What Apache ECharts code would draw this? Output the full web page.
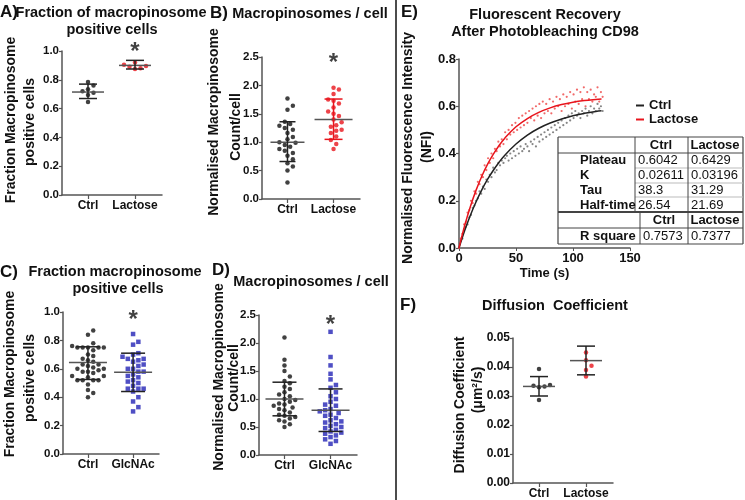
<!DOCTYPE html>
<html><head><meta charset="utf-8">
<script src="https://cdn.jsdelivr.net/npm/echarts@6/dist/echarts.min.js"></script>
<style>html,body{margin:0;padding:0;background:#fff}#c{width:745px;height:500px}</style>
</head><body><div id="c"></div>
<script>
// ---------------- DATA ----------------
const groupsAB = ['Ctrl', 'Lactose'];
const groupsCD = ['Ctrl', 'GlcNAc'];
const groupsF = ['Ctrl', 'Lactose'];

// A) fraction of macropinosome positive cells
const aCtrl = [0.785, 0.76, 0.735, 0.72, 0.71, 0.695, 0.645];
const aLactose = [0.92, 0.905, 0.895, 0.89, 0.88, 0.875];
const aCtrlStats = [0.715, 0.67, 0.77];      // mean, mean-SD, mean+SD
const aLactoseStats = [0.90, 0.875, 0.935];
const aStar = 0.99;

// B) macropinosomes / cell
const bCtrl = [1.77, 1.64, 1.57, 1.36, 1.32, 1.29, 1.25, 1.22, 1.16, 1.09, 1.05, 1.0, 0.99, 0.95, 0.92, 0.88, 0.85, 0.81, 0.76, 0.70, 0.63, 0.57, 0.50, 0.29];
const bLactose = [1.96, 1.93, 1.85, 1.75, 1.73, 1.68, 1.61, 1.54, 1.50, 1.46, 1.40, 1.35, 1.30, 1.27, 1.22, 1.20, 1.16, 1.10, 1.04, 0.97, 0.88];
const bCtrlStats = [1.0, 0.66, 1.36];
const bLactoseStats = [1.40, 1.05, 1.76];
const bStar = 2.39;

// C) fraction macropinosome positive cells
const cCtrl = [0.87, 0.84, 0.78, 0.76, 0.75, 0.75, 0.75, 0.75, 0.75, 0.73, 0.70, 0.69, 0.67, 0.66, 0.65, 0.63, 0.63, 0.62, 0.61, 0.60, 0.60, 0.59, 0.58, 0.58, 0.57, 0.55, 0.55, 0.54, 0.52, 0.52, 0.52, 0.52, 0.49, 0.45, 0.43, 0.40];
const cGlcNAc = [0.845, 0.79, 0.77, 0.71, 0.70, 0.685, 0.67, 0.67, 0.66, 0.65, 0.63, 0.62, 0.60, 0.60, 0.58, 0.58, 0.56, 0.55, 0.54, 0.52, 0.51, 0.50, 0.48, 0.46, 0.46, 0.46, 0.44, 0.40, 0.37, 0.33, 0.30];
const cCtrlStats = [0.645, 0.525, 0.755];
const cGlcNAcStats = [0.575, 0.44, 0.71];
const cStar = 0.94;

// D) macropinosomes / cell
const dCtrl = [2.1, 1.7, 1.6, 1.5, 1.4, 1.32, 1.28, 1.22, 1.18, 1.12, 1.08, 1.05, 1.0, 0.98, 0.95, 0.92, 0.9, 0.88, 0.85, 0.82, 0.8, 0.76, 0.72, 0.7, 0.68, 0.65, 0.62, 0.6, 0.55, 0.5];
const dGlcNAc = [2.2, 1.75, 1.6, 1.45, 1.35, 1.25, 1.2, 1.12, 1.05, 1.0, 0.95, 0.9, 0.88, 0.82, 0.8, 0.78, 0.75, 0.72, 0.7, 0.66, 0.62, 0.6, 0.58, 0.55, 0.52, 0.5, 0.48, 0.45, 0.42, 0.4, 0.38, 0.35, 0.32, 0.28, 0.25, 0.2];
const dCtrlStats = [1.0, 0.7, 1.3];
const dGlcNAcStats = [0.8, 0.42, 1.18];
const dStar = 2.32;

// E) FRAP recovery
const eFrameInterval = 1.5; // s between frames
const eCtrlRaw = [0.00,0.03,0.04,0.08,0.09,0.10,0.13,0.14,0.17,0.18,0.20,0.21,0.24,0.23,0.26,0.25,0.29,0.28,0.31,0.30,0.34,0.32,0.33,0.36,0.35,0.37,0.36,0.38,0.39,0.37,0.40,0.38,0.41,0.39,0.42,0.40,0.43,0.41,0.42,0.44,0.43,0.41,0.45,0.44,0.46,0.43,0.47,0.45,0.48,0.46,0.49,0.47,0.50,0.48,0.51,0.49,0.52,0.50,0.53,0.51,0.54,0.52,0.55,0.53,0.56,0.54,0.57,0.55,0.58,0.56,0.57,0.55,0.58,0.57,0.59,0.56,0.58,0.60,0.57,0.59,0.58,0.61,0.59,0.60,0.58];
const eLactoseRaw = [0.00,0.04,0.06,0.10,0.11,0.15,0.16,0.20,0.19,0.24,0.23,0.28,0.27,0.31,0.30,0.35,0.33,0.38,0.36,0.40,0.38,0.42,0.41,0.45,0.43,0.46,0.44,0.49,0.46,0.50,0.48,0.52,0.49,0.53,0.50,0.55,0.51,0.56,0.52,0.57,0.53,0.58,0.55,0.59,0.54,0.60,0.56,0.61,0.55,0.62,0.57,0.61,0.58,0.63,0.57,0.62,0.59,0.64,0.60,0.63,0.58,0.65,0.60,0.64,0.61,0.66,0.59,0.65,0.62,0.67,0.61,0.66,0.63,0.68,0.60,0.66,0.63,0.67,0.62,0.65,0.64,0.68,0.62,0.66,0.64];
const eFitTime = [0, 5, 10, 15, 20, 25, 30, 35, 40, 50, 60, 70, 80, 90, 100, 110, 120, 125];
const eCtrlFit = [0, 0.074, 0.139, 0.196, 0.246, 0.290, 0.328, 0.362, 0.392, 0.440, 0.478, 0.507, 0.529, 0.546, 0.560, 0.570, 0.578, 0.581];
const eLactoseFit = [0, 0.095, 0.176, 0.245, 0.304, 0.354, 0.396, 0.433, 0.464, 0.513, 0.548, 0.574, 0.593, 0.607, 0.617, 0.624, 0.629, 0.631];
const tableHeader = ['Ctrl', 'Lactose'];
const tableRows = ['Plateau', 'K', 'Tau', 'Half-time'];
const tableCtrl = ['0.6042', '0.02611', '38.3', '26.54'];
const tableLactose = ['0.6429', '0.03196', '31.29', '21.69'];
const rSquare = ['0.7573', '0.7377'];

// F) diffusion coefficient
const fCtrl = [0.0393, 0.0338, 0.0335, 0.0333, 0.0330, 0.0286];
const fLactose = [0.0450, 0.0423, 0.0404, 0.0390, 0.0367];
const fCtrlStats = [0.0333, 0.0300, 0.0367];
const fLactoseStats = [0.0422, 0.0373, 0.0472];
const fStar = 0.0505;

// ---------------- LAYOUT ----------------
const ff = "'Liberation Sans', Arial, Helvetica, sans-serif";
const catPos = [0.52, 1.46];
const BLACK = '#111', RED = '#e8141c', BLUE = '#2323b5';

function swarm(vals, center, ppuY, ppuX, d) {
  const order = vals.map((v, i) => i).sort((a, b) => vals[a] - vals[b]);
  const placed = [], out = new Array(vals.length);
  const step = d / 2;
  for (const i of order) {
    const py = vals[i] * ppuY;
    let ox = 0;
    for (let k = 0; k < 60; k++) {
      const c = k === 0 ? 0 : (k % 2 ? 1 : -1) * Math.ceil(k / 2) * step;
      if (placed.every(p => Math.hypot(p[0] - c, p[1] - py) >= d)) { ox = c; break; }
    }
    placed.push([ox, py]);
    out[i] = [center + ox / ppuX, vals[i]];
  }
  return out;
}

const axisLineStyle = { color: '#555', width: 1.5 };
function catX(gi, names) {
  return {
    type: 'value', gridIndex: gi, min: 0, max: 2,
    axisLine: { show: true, onZero: false, lineStyle: axisLineStyle },
    axisTick: { show: true, customValues: catPos, length: 4, lineStyle: { color: '#555', width: 1.2 } },
    axisLabel: { customValues: catPos, formatter: v => (v < 1 ? names[0] : names[1]), fontWeight: 'bold', fontSize: 12, color: BLACK, fontFamily: ff, margin: 5 },
    splitLine: { show: false }
  };
}
function valY(gi, max, interval, dec, fs) {
  return {
    type: 'value', gridIndex: gi, min: 0, max: max, interval: interval,
    axisLine: { show: true, lineStyle: axisLineStyle },
    axisTick: { show: true, length: 3, lineStyle: { color: '#555', width: 1.2 } },
    axisLabel: { formatter: v => v.toFixed(dec), fontWeight: 'bold', fontSize: fs || 11.5, color: BLACK, fontFamily: ff, margin: 3 },
    splitLine: { show: false }
  };
}
function dots(gi, vals, ci, ppuY, color, symbol, name) {
  return {
    type: 'scatter', name: name, xAxisIndex: gi, yAxisIndex: gi, silent: true, z: 2,
    data: swarm(vals, catPos[ci], ppuY, 50, 5.5),
    symbol: symbol || 'circle', symbolSize: 4.5, itemStyle: { color: color }
  };
}
function errBars(gi, ci, stats, meanHalf, capHalf, sdColor) {
  return {
    type: 'custom', xAxisIndex: gi, yAxisIndex: gi, z: 5, silent: true,
    data: [[catPos[ci], stats[0], stats[1], stats[2]]],
    renderItem: (params, api) => {
      const x = api.value(0);
      const pm = api.coord([x, api.value(1)]), pl = api.coord([x, api.value(2)]), ph = api.coord([x, api.value(3)]);
      const st = { stroke: sdColor, lineWidth: 1.5 };
      return { type: 'group', children: [
        { type: 'line', shape: { x1: pm[0] - meanHalf, y1: pm[1], x2: pm[0] + meanHalf, y2: pm[1] }, style: { stroke: '#555', lineWidth: 1.5 } },
        { type: 'line', shape: { x1: pl[0] - capHalf, y1: pl[1], x2: pl[0] + capHalf, y2: pl[1] }, style: st },
        { type: 'line', shape: { x1: ph[0] - capHalf, y1: ph[1], x2: ph[0] + capHalf, y2: ph[1] }, style: st },
        { type: 'line', shape: { x1: pl[0], y1: pl[1], x2: ph[0], y2: ph[1] }, style: st }
      ]};
    }
  };
}
function star(gi, value) {
  return {
    type: 'scatter', xAxisIndex: gi, yAxisIndex: gi, silent: true, symbolSize: 0, z: 6,
    data: [[catPos[1], value]],
    label: { show: true, position: 'inside', formatter: '*', fontSize: 24, fontWeight: 'bold', color: BLACK, fontFamily: ff }
  };
}
function T(text, x, y, o) {
  o = o || {};
  const al = o.align || 'left';
  return { type: 'text', x: x, y: y, rotation: o.rot ? Math.PI / 2 : 0, z: o.z || 50, silent: true,
    style: { text: text, font: (o.w || 'bold') + ' ' + (o.size || 14.5) + 'px ' + ff, fill: o.color || BLACK,
      align: al, verticalAlign: 'middle', textAlign: al, textVerticalAlign: 'middle' } };
}
function L(x1, y1, x2, y2, c, w) {
  return { type: 'line', z: 60, silent: true, shape: { x1: x1, y1: y1, x2: x2, y2: y2 }, style: { stroke: c || '#444', lineWidth: w || 1 } };
}

// table graphics
const tb = [];
tb.push({ type: 'rect', z: 55, silent: true, shape: { x: 558, y: 137, width: 185, height: 107 }, style: { fill: '#fff' } });
tb.push(L(558, 137, 743, 137, '#444', 1.2), L(558, 244, 743, 244, '#444', 1.2), L(558, 137, 558, 244, '#444', 1.2), L(743, 137, 743, 244, '#444', 1.2));
tb.push(L(558, 153, 743, 153, '#444', 1));
[168, 183, 197].forEach(y => tb.push(L(635, y, 743, y, '#bbb', 1)));
tb.push(L(558, 212, 743, 212, '#444', 2));
tb.push(L(558, 228, 743, 228, '#444', 1));
tb.push(L(635, 137, 635, 212, '#444', 1), L(688, 137, 688, 212, '#444', 1));
tb.push(L(640, 212, 640, 244, '#444', 1), L(688, 212, 688, 244, '#444', 1));
const TZ = 70;
tb.push(T(tableHeader[0], 661, 145, { align: 'center', size: 13, z: TZ }), T(tableHeader[1], 715, 145, { align: 'center', size: 13, z: TZ }));
const rowY = [160, 175, 190, 205];
tableRows.forEach((r, i) => {
  tb.push(T(r, 580, rowY[i], { size: 13, z: TZ }));
  tb.push(T(tableCtrl[i], 638, rowY[i], { size: 13, w: 'normal', z: TZ }));
  tb.push(T(tableLactose[i], 691, rowY[i], { size: 13, w: 'normal', z: TZ }));
});
tb.push(T(tableHeader[0], 664, 220, { align: 'center', size: 13, z: TZ }), T(tableHeader[1], 715, 220, { align: 'center', size: 13, z: TZ }));
tb.push(T('R square', 580, 236, { size: 13, z: TZ }), T(rSquare[0], 643, 236, { size: 13, w: 'normal', z: TZ }), T(rSquare[1], 691, 236, { size: 13, w: 'normal', z: TZ }));

const texts = [
  T('A)', 0, 12, { size: 17 }),
  T('Fraction of macropinosome', 111, 13, { align: 'center' }),
  T('positive cells', 112, 30, { align: 'center' }),
  T('B)', 210, 13, { size: 17 }),
  T('Macropinosomes / cell', 310, 14, { align: 'center' }),
  T('C)', 0, 272, { size: 17 }),
  T('Fraction macropinosome', 115, 272, { align: 'center' }),
  T('positive cells', 118, 289, { align: 'center' }),
  T('D)', 212, 270, { size: 17 }),
  T('Macropinosomes / cell', 311, 282, { align: 'center' }),
  T('E)', 401, 12, { size: 17 }),
  T('Fluorescent Recovery', 545, 15, { align: 'center' }),
  T('After Photobleaching CD98', 545, 32, { align: 'center' }),
  T('F)', 400, 305, { size: 17 }),
  T('Diffusion  Coefficient', 555, 306, { align: 'center' }),
  T('Fraction Macropinosome', 11, 120, { align: 'center', rot: 1, size: 14 }),
  T('positive cells', 30, 122, { align: 'center', rot: 1, size: 14 }),
  T('Normalised Macropinosome', 214, 122, { align: 'center', rot: 1, size: 14 }),
  T('Count/cell', 236, 127, { align: 'center', rot: 1, size: 14 }),
  T('Fraction Macropinosome', 10, 374, { align: 'center', rot: 1, size: 14 }),
  T('positive cells', 30, 378, { align: 'center', rot: 1, size: 14 }),
  T('Normalised Macropinosome', 219, 377, { align: 'center', rot: 1, size: 14 }),
  T('Count/cell', 234, 378, { align: 'center', rot: 1, size: 14 }),
  T('Normalised Fluorescence Intensity', 408, 148, { align: 'center', rot: 1, size: 14 }),
  T('(NFI)', 427, 147, { align: 'center', rot: 1, size: 14 }),
  T('Diffusion Coefficient', 460, 405, { align: 'center', rot: 1, size: 14 }),
  T('(μm²/s)', 478, 390, { align: 'center', rot: 1, size: 14 }),
  L(396, 0, 396, 500, '#111', 1.5)
];

const option = {
  animation: false,
  backgroundColor: '#fff',
  textStyle: { fontFamily: ff },
  grid: [
    { left: 62, top: 51, width: 100, height: 144 },
    { left: 262, top: 57, width: 98, height: 142 },
    { left: 63, top: 312, width: 96, height: 142 },
    { left: 259, top: 315, width: 98, height: 140 },
    { left: 459, top: 59, width: 171, height: 189 },
    { left: 513, top: 338, width: 100, height: 145 }
  ],
  xAxis: [
    catX(0, groupsAB), catX(1, groupsAB), catX(2, groupsCD), catX(3, groupsCD),
    { type: 'value', gridIndex: 4, min: 0, max: 150, interval: 50,
      axisLine: { show: true, onZero: false, lineStyle: axisLineStyle },
      axisTick: { show: true, length: 3, lineStyle: { color: '#555' } },
      axisLabel: { fontWeight: 'bold', fontSize: 13, color: BLACK, fontFamily: ff, margin: 4 },
      splitLine: { show: false },
      name: 'Time (s)', nameLocation: 'middle', nameGap: 19,
      nameTextStyle: { fontWeight: 'bold', fontSize: 13, color: BLACK, fontFamily: ff } },
    catX(5, groupsF)
  ],
  yAxis: [
    valY(0, 1.0, 0.2, 1), valY(1, 2.5, 0.5, 1), valY(2, 1.0, 0.2, 1), valY(3, 2.5, 0.5, 1),
    valY(4, 0.8, 0.2, 1, 13), valY(5, 0.05, 0.01, 2, 12)
  ],
  legend: { data: ['Ctrl', 'Lactose'], orient: 'vertical', left: 631, top: 94, itemWidth: 8, itemHeight: 2, itemGap: 1,
    icon: 'rect', selectedMode: false, textStyle: { fontSize: 13, fontWeight: 'bold', color: BLACK, fontFamily: ff } },
  series: [
    dots(0, aCtrl, 0, 144, BLACK, 'circle', 'A-Ctrl'), dots(0, aLactose, 1, 144, RED, 'circle', 'A-Lac'),
    errBars(0, 0, aCtrlStats, 16, 9, '#222'), errBars(0, 1, aLactoseStats, 16, 9, '#222'), star(0, aStar),

    dots(1, bCtrl, 0, 57, BLACK, 'circle', 'B-Ctrl'), dots(1, bLactose, 1, 57, RED, 'circle', 'B-Lac'),
    errBars(1, 0, bCtrlStats, 17, 8, '#222'), errBars(1, 1, bLactoseStats, 19, 9, RED), star(1, bStar),

    dots(2, cCtrl, 0, 142, BLACK, 'circle', 'C-Ctrl'), dots(2, cGlcNAc, 1, 142, BLUE, 'rect', 'C-Glc'),
    errBars(2, 0, cCtrlStats, 19, 12, '#222'), errBars(2, 1, cGlcNAcStats, 19, 12, '#222'), star(2, cStar),

    dots(3, dCtrl, 0, 56, BLACK, 'circle', 'D-Ctrl'), dots(3, dGlcNAc, 1, 56, BLUE, 'rect', 'D-Glc'),
    errBars(3, 0, dCtrlStats, 19, 12, '#222'), errBars(3, 1, dGlcNAcStats, 19, 12, '#222'), star(3, dStar),

    { type: 'scatter', name: 'E-ctrl-raw', xAxisIndex: 4, yAxisIndex: 4, silent: true, symbolSize: 2.2,
      itemStyle: { color: '#666' }, data: eCtrlRaw.map((v, i) => [i * eFrameInterval, v]) },
    { type: 'scatter', name: 'E-lac-raw', xAxisIndex: 4, yAxisIndex: 4, silent: true, symbolSize: 2.2,
      itemStyle: { color: '#ee4444' }, data: eLactoseRaw.map((v, i) => [i * eFrameInterval, v]) },
    { type: 'line', name: 'Ctrl', xAxisIndex: 4, yAxisIndex: 4, silent: true, symbol: 'none', smooth: 0.4,
      lineStyle: { color: '#222', width: 1.5 }, itemStyle: { color: '#222' }, data: eFitTime.map((t, i) => [t, eCtrlFit[i]]) },
    { type: 'line', name: 'Lactose', xAxisIndex: 4, yAxisIndex: 4, silent: true, symbol: 'none', smooth: 0.4,
      lineStyle: { color: RED, width: 1.5 }, itemStyle: { color: RED }, data: eFitTime.map((t, i) => [t, eLactoseFit[i]]) },

    dots(5, fCtrl, 0, 2900, BLACK, 'circle', 'F-Ctrl'), dots(5, fLactose, 1, 2900, RED, 'circle', 'F-Lac'),
    errBars(5, 0, fCtrlStats, 16, 9, '#222'), errBars(5, 1, fLactoseStats, 16, 9, '#222'), star(5, fStar)
  ],
  graphic: texts.concat(tb)
};
const chart = echarts.init(document.getElementById('c'), null, { renderer: 'canvas' });
chart.setOption(option);
</script></body></html>
